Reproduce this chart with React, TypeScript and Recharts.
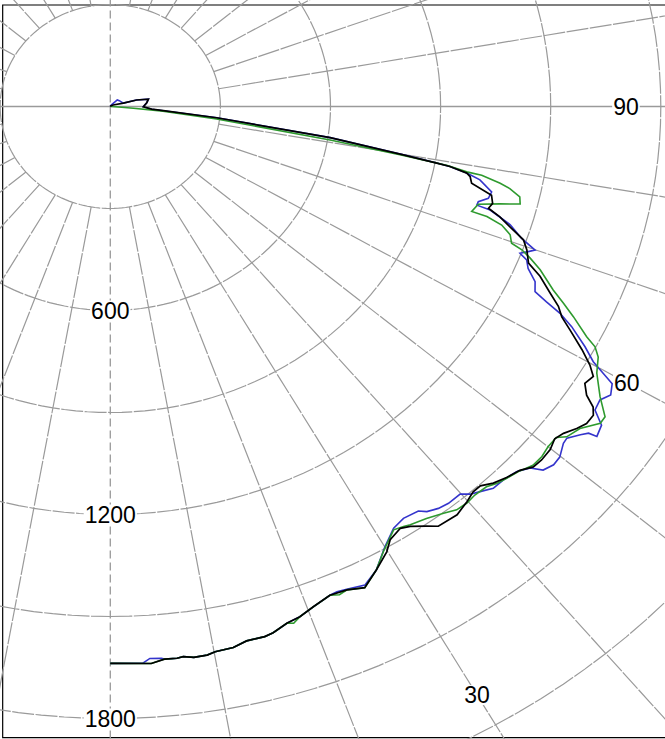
import React from 'react';
import { ComposedChart, Line, XAxis, YAxis, ReferenceDot, ReferenceArea } from 'recharts';

// ---------- data ----------
const ringValues = [300, 600, 900, 1200, 1500, 1800, 2100, 2400, 2700];
const spokeAngles = [10, 20, 30, 40, 50, 60, 70, 80, 100, 110, 120, 130, 140, 150, 160, 170,
  190, 200, 210, 220, 230, 240, 250, 260, 280, 290, 300, 310, 320, 330, 340, 350];
const radialTickLabels = [600, 1200, 1800];
const angleTickLabels = ['90', '60', '30'];
const angleTickAngles = [90, 60, 30];

const blackAngles = [0, 3.9, 5.2, 6.4, 7.0, 8.0, 9.3, 10.1, 11.9, 13.3, 15.1, 16.0, 17.6, 19.0, 20.6, 22.6, 24.4, 26.1, 28.0, 29.9,
  30.9, 32.5, 33.5, 34.9, 35.9, 38.2, 39.9, 41.1, 42.1, 43.3, 44.7, 46.2, 47.4, 48.5, 49.9, 51.1, 52.1, 53.3, 54.3, 55.4,
  56.1, 56.8, 57.8, 58.9, 59.8, 60.9, 62.3, 63.3, 64.3, 65.4, 66.9, 68.0, 69.6, 70.8, 72.0, 73.0, 73.8, 74.7, 75.9, 77.1,
  78.1, 78.6, 79.2, 79.4, 79.9, 81.3, 83.5, 85.1, 86.0, 89.6, 96.4, 101.6, 104.9, 105.5, 120, 150, 180];
const blackValues = [1638, 1642, 1632, 1633, 1630, 1636, 1635, 1629, 1626, 1615, 1615, 1610, 1594, 1587, 1572, 1557, 1561, 1576, 1544, 1511,
  1485, 1471, 1481, 1505, 1524, 1528, 1515, 1504, 1504, 1522, 1535, 1546, 1566, 1569, 1567, 1556, 1565, 1585, 1598, 1599,
  1585, 1551, 1528, 1537, 1512, 1471, 1415, 1377, 1355, 1318, 1273, 1229, 1211, 1192, 1145, 1110, 1073, 1080, 1071, 1010,
  1002, 991, 942, 905, 811, 606, 292, 145, 113, 90, 100, 106, 74, 37, 9, 2, 0];

const blueAngles = [0, 3.1, 3.8, 4.9, 5.2, 6.4, 7.0, 8.0, 9.3, 10.1, 11.9, 13.3, 15.1, 16.0, 17.6, 19.0, 20.6, 22.6, 23.4, 24.4,
  26.25, 28.0, 30.0, 31.9, 33.4, 35.2, 35.9, 37.1, 38.3, 39.9, 40.7, 41.65, 42.9, 44.3, 45.9, 47.1, 47.8, 48.9, 49.9, 51.25,
  51.9, 53.0, 53.6, 53.8, 55.0, 55.95, 57.1, 58.1, 59.2, 59.7, 60.3, 61.35, 62.75, 63.6, 64.2, 64.8, 66.0, 67.3, 68.3, 68.85,
  69.45, 69.95, 70.9, 72.3, 73.6, 73.8, 74.4, 75.3, 76.4, 77.9, 78.6, 79.2, 79.4, 79.9, 81.3, 83.5, 85.1, 86.0, 89.6, 96.4,
  101.6, 104.9, 105.5, 125, 135, 150, 180];
const blueValues = [1638, 1640, 1627, 1629, 1632, 1633, 1630, 1636, 1635, 1629, 1626, 1615, 1615, 1610, 1594, 1587, 1572, 1557, 1555, 1559,
  1569, 1544, 1496, 1461, 1451, 1456, 1471, 1482, 1487, 1486, 1504, 1516, 1533, 1534, 1543, 1562, 1592, 1603, 1601, 1583,
  1581, 1604, 1619, 1643, 1634, 1594, 1589, 1606, 1592, 1556, 1515, 1474, 1414, 1368, 1320, 1279, 1267, 1234, 1221, 1197,
  1216, 1232, 1186, 1144, 1079, 1040, 1041, 1065, 1069, 1030, 991, 942, 905, 811, 606, 292, 145, 113, 90, 100,
  106, 74, 37, 30, 27, 5, 0];

const greenAngles = [0, 3.9, 5.2, 6.4, 7.0, 8.0, 9.3, 10.1, 11.9, 13.3, 15.1, 16.0, 17.6, 18.2, 19.0, 20.6, 22.6, 23.5, 24.4, 26.1,
  28.0, 29.6, 31.8, 32.9, 33.6, 35.4, 37.2, 38.5, 39.8, 41.0, 42.5, 43.5, 44.65, 46.0, 47.5, 48.8, 50.0, 51.3, 52.0, 53.5,
  55.1, 55.9, 57.4, 59.4, 61.0, 61.85, 62.45, 63.9, 64.9, 65.9, 67.7, 68.7, 69.4, 69.8, 70.9, 71.9, 72.5, 72.6, 74.0, 74.9,
  75.6, 76.6, 77.5, 78.0, 78.7, 78.8, 79.3, 79.8, 80.65, 82.8, 84.6, 85.2, 86.0, 90, 180];
const greenValues = [1638, 1642, 1632, 1633, 1630, 1636, 1635, 1629, 1626, 1615, 1615, 1610, 1594, 1600, 1587, 1572, 1557, 1566, 1561, 1576,
  1544, 1506, 1465, 1471, 1477, 1487, 1502, 1516, 1518, 1514, 1517, 1529, 1537, 1546, 1562, 1563, 1557, 1557, 1578, 1592,
  1628, 1628, 1584, 1540, 1520, 1498, 1464, 1405, 1363, 1322, 1266, 1228, 1198, 1165, 1153, 1122, 1076, 1032, 1043, 1100,
  1153, 1147, 1115, 1086, 1032, 990, 935, 805, 607, 292, 144, 63, 31, 5, 0];

// ---------- layout ----------
const CHART_W = 665;
const CHART_H = 739;
const X_DOMAIN: [number, number] = [-300.5, 1511.4];
const Y_DOMAIN: [number, number] = [-1860.3, 313.2];
const ANGLE_LABEL_RADII = [1405, 1625, 1999];
const GRID = '#9a9a9a';
const GRID_DASH = '22 1.5';
const FONT = "'Liberation Sans', Arial, Helvetica, sans-serif";

const toXY = (deg: number, r: number) => {
  const t = (deg * Math.PI) / 180;
  return { x: r * Math.sin(t), y: -r * Math.cos(t) };
};

const polarSeries = (angles: number[], values: number[]) =>
  angles.map((a, i) => toXY(a, values[i]));

const circlePts = (r: number) => {
  const pts: { x: number; y: number }[] = [];
  for (let a = 0; a <= 360; a += 2) pts.push(toXY(a, r));
  return pts;
};

const makeLabel = (text: string) => (props: any) => {
  const { cx, cy } = props;
  const w = text.length * 12.8 + 2;
  return (
    <g>
      <rect x={cx - w / 2} y={cy - 10} width={w} height={20} fill="#ffffff" />
      <text x={cx} y={cy + 8.3} textAnchor="middle" fontSize={23} fontFamily={FONT} fill="#000">
        {text}
      </text>
    </g>
  );
};

const lineCommon = {
  type: 'linear' as const,
  dataKey: 'y',
  dot: false,
  activeDot: false,
  isAnimationActive: false,
  legendType: 'none' as const,
};

export default function App() {
  const blue = polarSeries(blueAngles, blueValues);
  const green = polarSeries(greenAngles, greenValues);
  const black = polarSeries(blackAngles, blackValues);

  return (
    <div style={{ position: 'absolute', left: 0, top: 0, width: CHART_W, height: CHART_H, background: '#fff' }}>
      <ComposedChart width={CHART_W} height={CHART_H} margin={{ top: 0, right: 0, bottom: 0, left: 0 }}>
        <XAxis type="number" dataKey="x" domain={X_DOMAIN} allowDataOverflow hide />
        <YAxis type="number" dataKey="y" domain={Y_DOMAIN} allowDataOverflow hide />

        {ringValues.map((r) => (
          <Line key={'ring' + r} {...lineCommon} data={circlePts(r)} stroke={GRID} strokeWidth={1.2} strokeDasharray={GRID_DASH} />
        ))}
        {spokeAngles.map((a) => (
          <Line key={'spoke' + a} {...lineCommon} data={[toXY(a, 300), toXY(a, 3200)]} stroke={GRID} strokeWidth={1.2} strokeDasharray={GRID_DASH} />
        ))}
        <Line key="vaxis" {...lineCommon} data={[toXY(180, 600), toXY(0, 2200)]} stroke={GRID} strokeWidth={1.3} strokeDasharray="8 4" />
        <Line key="haxis" {...lineCommon} data={[toXY(270, 600), toXY(90, 2200)]} stroke={GRID} strokeWidth={1.3} />

        <ReferenceArea x1={-293.2} x2={2000} y1={-1856.5} y2={298.5} fill="none" stroke="#000" strokeWidth={1.2} ifOverflow="visible" />

        {radialTickLabels.map((v) => (
          <ReferenceDot key={'rl' + v} x={0} y={-v} r={0} ifOverflow="visible" shape={makeLabel(String(v))} />
        ))}
        {angleTickLabels.map((t, i) => {
          const p = toXY(angleTickAngles[i], ANGLE_LABEL_RADII[i]);
          return <ReferenceDot key={'al' + t} x={p.x} y={p.y} r={0} ifOverflow="visible" shape={makeLabel(t)} />;
        })}

        <Line key="blue" {...lineCommon} data={blue} stroke="#3434cc" strokeWidth={1.6} />
        <Line key="green" {...lineCommon} data={green} stroke="#2e9a2e" strokeWidth={1.6} />
        <Line key="black" {...lineCommon} data={black} stroke="#000000" strokeWidth={1.7} />
      </ComposedChart>
    </div>
  );
}
